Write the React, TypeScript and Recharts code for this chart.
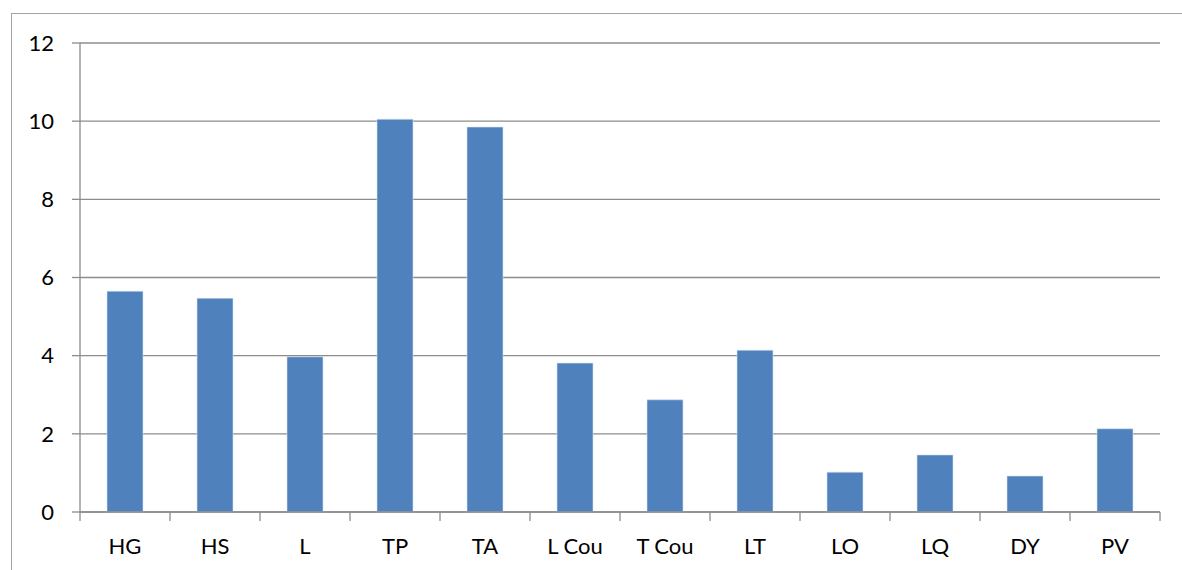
import React from "react";
import {
  BarChart,
  Bar,
  XAxis,
  YAxis,
  CartesianGrid,
} from "recharts";

const categories = ["HG", "HS", "L", "TP", "TA", "L Cou", "T Cou", "LT", "LO", "LQ", "DY", "PV"];
const values = [5.65, 5.47, 3.97, 10.05, 9.85, 3.81, 2.87, 4.14, 1.02, 1.46, 0.92, 2.13];
const yTicks = [0, 2, 4, 6, 8, 10, 12];
const edgeTicks = categories.map((_, i) => i).concat(categories.length);

const data = categories.map((name, i) => ({ name, value: values[i], idx: i + 0.5 }));

const GRID = "#8c8c8c";
const FONT = "Lato, 'Open Sans', sans-serif";

export default function App() {
  return (
    <div
      style={{
        position: "absolute",
        left: 0,
        top: 0,
        width: 1182,
        height: 570,
        overflow: "hidden",
        background: "#fff",
      }}
    >
      {/* outer frame, runs off the page on the right and bottom */}
      <div
        style={{
          position: "absolute",
          left: 11,
          top: 13,
          width: 1200,
          height: 600,
          border: "1px solid #a3a3a3",
        }}
      />
      <div style={{ position: "absolute", left: 0, top: 0 }}>
        <BarChart
          width={1182}
          height={570}
          data={data}
          margin={{ top: 43, right: 22, bottom: 28, left: 20 }}
          barCategoryGap="30%"
        >
          <CartesianGrid vertical={false} stroke={GRID} strokeWidth={1.3} />
          {/* tick marks sit on category edges, so a numeric axis draws them */}
          <XAxis
            xAxisId="a_edges"
            type="number"
            dataKey="idx"
            domain={[0, categories.length]}
            ticks={edgeTicks}
            tickFormatter={() => ""}
            axisLine={{ stroke: GRID, strokeWidth: 1.3 }}
            tickSize={9}
            tickLine={{ stroke: GRID, strokeWidth: 1.3 }}
            height={1}
          />
          <XAxis
            xAxisId="b_cat"
            dataKey="name"
            axisLine={false}
            tickLine={false}
            tickSize={8}
            tickMargin={17}
            interval={0}
            height={29}
            tick={{ fill: "#000", fontSize: 22, fontFamily: FONT }}
          />
          <YAxis
            domain={[0, 12]}
            ticks={yTicks}
            width={60}
            axisLine={{ stroke: GRID, strokeWidth: 1.3 }}
            tickLine={{ stroke: GRID, strokeWidth: 1.3 }}
            tickSize={8}
            tickMargin={18}
            tick={{ fill: "#000", fontSize: 22, fontFamily: FONT }}
          />
          <Bar
            xAxisId="b_cat"
            dataKey="value"
            fill="#4f81bd"
            stroke="#d6e2f1"
            strokeWidth={0.6}
            isAnimationActive={false}
          />
        </BarChart>
      </div>
    </div>
  );
}
